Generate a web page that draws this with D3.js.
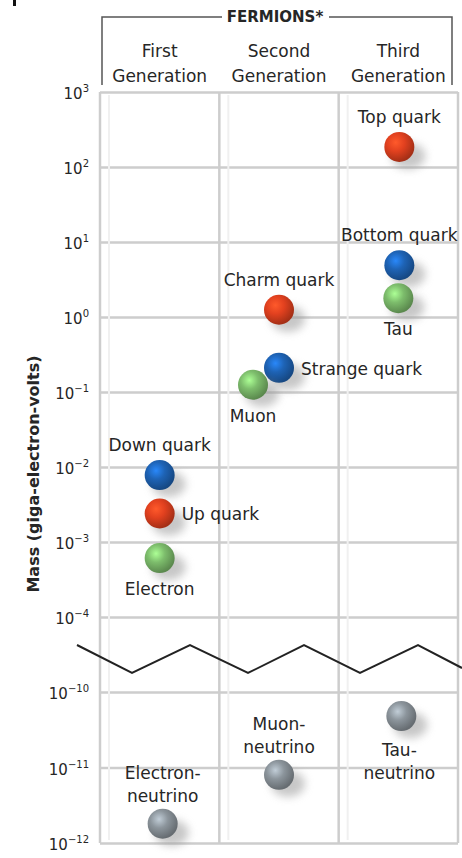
<!DOCTYPE html>
<html>
<head>
<meta charset="utf-8">
<script src="https://cdn.jsdelivr.net/npm/d3@7"></script>
<style>
  body { margin: 0; background: #fff; }
  svg { display: block; }
  text { font-family: "DejaVu Sans", sans-serif; fill: #262626; }
</style>
</head>
<body>
<div id="chart"></div>
<script>
// Data
const generations = ["First", "Second", "Third"];
const upperTicks = [1e-4, 1e-3, 1e-2, 1e-1, 1e0, 1e1, 1e2, 1e3];
const lowerTicks = [1e-12, 1e-11, 1e-10];

// charged fermions (GeV)
const names = ["Top quark", "Bottom quark", "Tau", "Charm quark", "Strange quark", "Muon", "Down quark", "Up quark", "Electron"];
const gens = ["Third", "Third", "Third", "Second", "Second", "Second", "First", "First", "First"];
const masses = [185, 4.9, 1.78, 1.25, 0.21, 0.125, 0.0078, 0.0024, 0.00061];
const kinds = ["up", "down", "lepton", "up", "down", "lepton", "down", "up", "lepton"];
const labelSide = ["above", "above", "below", "above", "right", "below", "above", "right", "below"];

// neutrinos (GeV)
const nuNames = [["Electron-", "neutrino"], ["Muon-", "neutrino"], ["Tau-", "neutrino"]];
const nuGens = ["First", "Second", "Third"];
const nuMasses = [1.8e-12, 8e-12, 4.8e-11];

const colors = { up: "#e2411f", down: "#1e63b5", lepton: "#7dbd6c", neutrino: "#8c959c" };

const W = 462, H = 858;
const svg = d3.select("#chart").append("svg").attr("width", W).attr("height", H);

// little mark at top-left
svg.append("rect").attr("x", 13).attr("y", 0).attr("width", 3).attr("height", 6).attr("fill", "#111");

const x = d3.scaleBand().domain(generations).range([100, 458]);
const yTop = d3.scaleLog().domain([1e-4, 1e3]).range([617, 92]);
const yBot = d3.scaleLog().domain([1e-12, 1e-10]).range([843, 692]);

const defs = svg.append("defs");
Object.entries(colors).forEach(([k, c]) => {
  const g = defs.append("radialGradient").attr("id", "ball-" + k)
    .attr("cx", "38%").attr("cy", "35%").attr("r", "65%");
  g.append("stop").attr("offset", "0%").attr("stop-color", d3.color(c).brighter(0.9));
  g.append("stop").attr("offset", "45%").attr("stop-color", c);
  g.append("stop").attr("offset", "100%").attr("stop-color", d3.color(c).darker(0.9));
});
defs.append("filter").attr("id", "blur").attr("x", "-50%").attr("y", "-50%").attr("width", "200%").attr("height", "200%")
  .append("feGaussianBlur").attr("stdDeviation", 4);

// grid
const grid = svg.append("g");
const gridColor = "#cdcdcd";
grid.append("g").call(d3.axisLeft(yTop).tickValues(upperTicks).tickSize(-358).tickFormat(""))
  .attr("transform", "translate(100,0)")
  .call(g => g.select(".domain").remove())
  .call(g => g.selectAll("line").attr("stroke", gridColor).attr("stroke-width", 2.5));
grid.append("g").call(d3.axisLeft(yBot).tickValues(lowerTicks).tickSize(-358).tickFormat(""))
  .attr("transform", "translate(100,0)")
  .call(g => g.select(".domain").remove())
  .call(g => g.selectAll("line").attr("stroke", gridColor).attr("stroke-width", 2.5));
const vx = generations.map(d => x(d)).concat([x.range()[1]]);
grid.selectAll(".vline").data(vx).join("line")
  .attr("x1", d => d).attr("x2", d => d).attr("y1", 92).attr("y2", 843)
  .attr("stroke", gridColor).attr("stroke-width", 2.5);
// faint inner shading lines
grid.selectAll(".vfaint").data(vx.slice(0, 3)).join("line")
  .attr("x1", d => d + 9).attr("x2", d => d + 9).attr("y1", 95).attr("y2", 840)
  .attr("stroke", "#f0f0f0").attr("stroke-width", 2);

// tick labels with superscripts
function tickLabels(scale, ticks) {
  const g = svg.append("g").attr("transform", "translate(89,0)");
  g.call(d3.axisLeft(scale).tickValues(ticks).tickSize(0).tickPadding(0).tickFormat(""))
    .call(s => s.select(".domain").remove());
  g.selectAll(".tick").each(function (d) {
    const t = d3.select(this).append("text").attr("text-anchor", "end").attr("dy", "0.45em")
      .style("font-size", "15px");
    const e = Math.round(Math.log10(d));
    const sup = e < 0 ? "\u2212" + (-e) : String(e);
    t.append("tspan").text("10");
    t.append("tspan").attr("dy", -7).style("font-size", "10px").text(sup);
  });
}
tickLabels(yTop, upperTicks);
tickLabels(yBot, lowerTicks);

// axis title
svg.append("text")
  .attr("transform", "translate(39,474) rotate(-90)")
  .attr("text-anchor", "middle")
  .style("font-size", "16px").style("font-weight", "bold")
  .text("Mass (giga-electron-volts)");

// zigzag break
const zig = [[77, 645], [132, 673], [190, 645], [248, 673], [304, 645], [360, 673], [418, 645], [462, 668]];
svg.append("path").attr("d", d3.line()(zig)).attr("fill", "none").attr("stroke", "#222").attr("stroke-width", 2);

// header bracket
svg.append("path").attr("d", "M102,85 V17 H222 M329,17 H452 V85")
  .attr("fill", "none").attr("stroke", "#555").attr("stroke-width", 1.5);
svg.append("text").attr("x", 275).attr("y", 22).attr("text-anchor", "middle")
  .style("font-size", "15px").style("font-weight", "bold").text("FERMIONS*");
generations.forEach(g => {
  const cx = x(g) + x.bandwidth() / 2;
  svg.append("text").attr("x", cx).attr("y", 57).attr("text-anchor", "middle").style("font-size", "17px").text(g);
  svg.append("text").attr("x", cx).attr("y", 82).attr("text-anchor", "middle").style("font-size", "17px").text("Generation");
});

// balls
const R = 15;
const nudge = { "Muon": -26, "Top quark": 1, "Bottom quark": 1 };
function ball(cx, cy, kind) {
  svg.append("ellipse").attr("cx", cx + 9).attr("cy", cy + 9).attr("rx", R + 2).attr("ry", R - 2)
    .attr("fill", "#9a9a9a").attr("opacity", 0.55).attr("filter", "url(#blur)");
  svg.append("circle").attr("cx", cx).attr("cy", cy).attr("r", R).attr("fill", `url(#ball-${kind})`);
}

names.forEach((n, i) => {
  const cx = x(gens[i]) + x.bandwidth() / 2 + (nudge[n] || 0);
  const cy = yTop(masses[i]);
  ball(cx, cy, kinds[i]);
  const lbl = svg.append("text").style("font-size", "17px").text(n);
  if (labelSide[i] === "above") lbl.attr("x", cx).attr("y", cy - 24).attr("text-anchor", "middle");
  else if (labelSide[i] === "below") lbl.attr("x", cx).attr("y", cy + 37).attr("text-anchor", "middle");
  else lbl.attr("x", cx + 22).attr("y", cy + 7).attr("text-anchor", "start");
});

nuNames.forEach((lines, i) => {
  const cx = x(nuGens[i]) + x.bandwidth() / 2 + (i === 0 ? 3 : i === 2 ? 3 : 0);
  const cy = yBot(nuMasses[i]);
  ball(cx, cy, "neutrino");
  // Tau label sits below its ball, the others above
  const base = i === 2 ? cy + 40 : cy - 45;
  lines.forEach((l, j) => {
    svg.append("text").attr("x", cx - (i === 2 ? 2 : 0)).attr("y", base + j * 23)
      .attr("text-anchor", "middle").style("font-size", "17px").text(l);
  });
});
</script>
</body>
</html>
